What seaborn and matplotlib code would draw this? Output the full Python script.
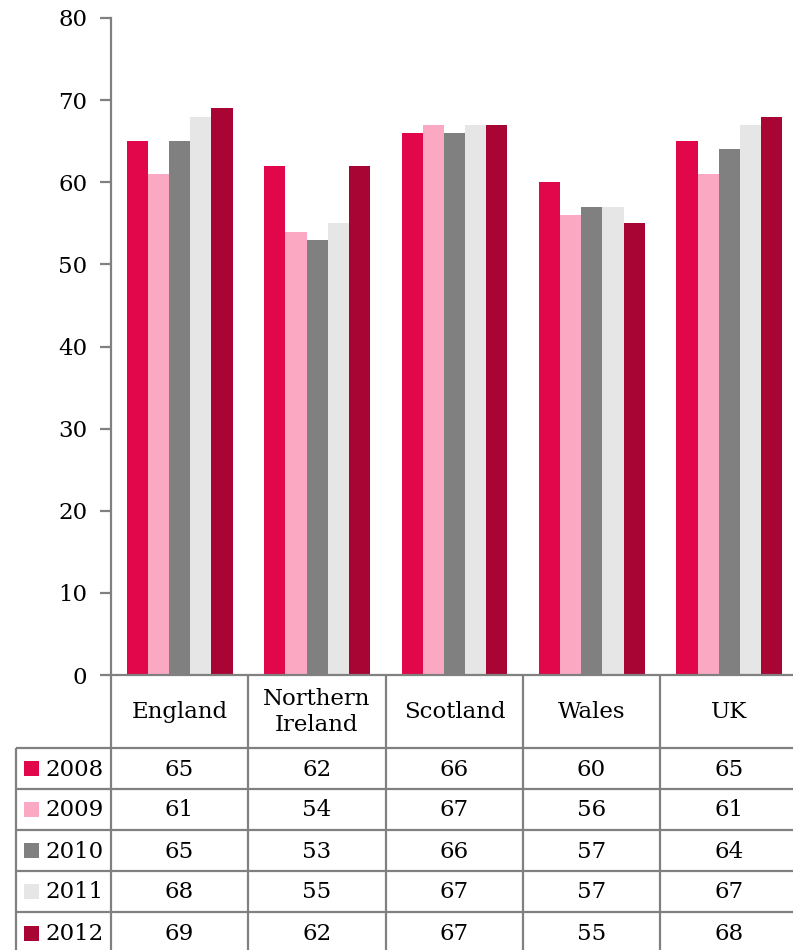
import pandas as pd
import matplotlib.pyplot as plt
import seaborn as sns
from matplotlib.patches import Rectangle

# Datos
regions = ['England', 'Northern\nIreland', 'Scotland', 'Wales', 'UK']
years = ['2008', '2009', '2010', '2011', '2012']
v2008 = [65, 62, 66, 60, 65]
v2009 = [61, 54, 67, 56, 61]
v2010 = [65, 53, 66, 57, 64]
v2011 = [68, 55, 67, 57, 67]
v2012 = [69, 62, 67, 55, 68]
colors = ['#E2064A', '#FBA9C2', '#808080', '#E6E6E6', '#A80535']

series = [v2008, v2009, v2010, v2011, v2012]
rows = []
for year, vals in zip(years, series):
    for reg, v in zip(regions, vals):
        rows.append({'Region': reg, 'Year': year, 'Value': v})
df = pd.DataFrame(rows)

sns.set_style('white')
plt.rcParams['font.family'] = ['DejaVu Serif']
plt.rcParams['text.color'] = 'black'
plt.rcParams['ytick.labelcolor'] = 'black'
grey = '#808080'
fs = 16.5

W, H = 793, 950
fig = plt.figure(figsize=(W / 100, H / 100), dpi=100)

# Ejes del grafico (en pixeles de la imagen)
ax_l, ax_r, ax_t, ax_b = 111, 798, 18, 675
ax = fig.add_axes([ax_l / W, (H - ax_b) / H, (ax_r - ax_l) / W, (ax_b - ax_t) / H])

sns.barplot(data=df, x='Region', y='Value', hue='Year', palette=colors,
            saturation=1, width=0.77, gap=0, legend=False, ax=ax, linewidth=0)

ax.set_xlim(-0.5, 4.5)
ax.set_ylim(0, 80)
ax.set_yticks(range(0, 81, 10))
ax.set_xticks([])
ax.set_xlabel('')
ax.set_ylabel('')
for s in ['top', 'right', 'bottom']:
    ax.spines[s].set_visible(False)
ax.spines['left'].set_color(grey)
ax.spines['left'].set_linewidth(1.6)
ax.tick_params(axis='y', direction='out', length=8, width=1.6, color=grey,
               labelsize=fs, labelcolor='black', pad=9, left=True)
ax.set_facecolor('none')

# Capa superior para la tabla de datos
ov = fig.add_axes([0, 0, 1, 1])
ov.set_xlim(0, W)
ov.set_ylim(H, 0)
ov.axis('off')
ov.patch.set_alpha(0)

col_x = [111, 248, 386, 523, 660, 798]
row_y = [675, 748, 789, 830, 871, 912, 953]
lw = 1.6

ov.plot([111, W], [675, 675], color=grey, lw=lw, solid_capstyle='butt')
for y in row_y[1:-1]:
    ov.plot([16, W], [y, y], color=grey, lw=lw, solid_capstyle='butt')
ov.plot([16, 16], [748, H], color=grey, lw=lw, solid_capstyle='butt')
for x in col_x[:-1]:
    ov.plot([x, x], [675, H], color=grey, lw=lw, solid_capstyle='butt')

# Encabezados
for i, reg in enumerate(regions):
    cx = (col_x[i] + col_x[i + 1]) / 2
    ov.text(cx, 712, reg, ha='center', va='center', fontsize=fs,
            linespacing=1.25)

# Filas
for j, (year, vals) in enumerate(zip(years, series)):
    cy = (row_y[j + 1] + row_y[j + 2]) / 2
    if j == 4:
        cy = (row_y[5] + H) / 2 + 2
    ov.add_patch(Rectangle((24, cy - 7.5), 15, 15, color=colors[j], lw=0))
    ov.text(45, cy + 1, year, ha='left', va='center', fontsize=fs)
    for i, v in enumerate(vals):
        cx = (col_x[i] + col_x[i + 1]) / 2
        ov.text(cx, cy + 1, str(v), ha='center', va='center', fontsize=fs)

fig.savefig('out.png', dpi=100)
